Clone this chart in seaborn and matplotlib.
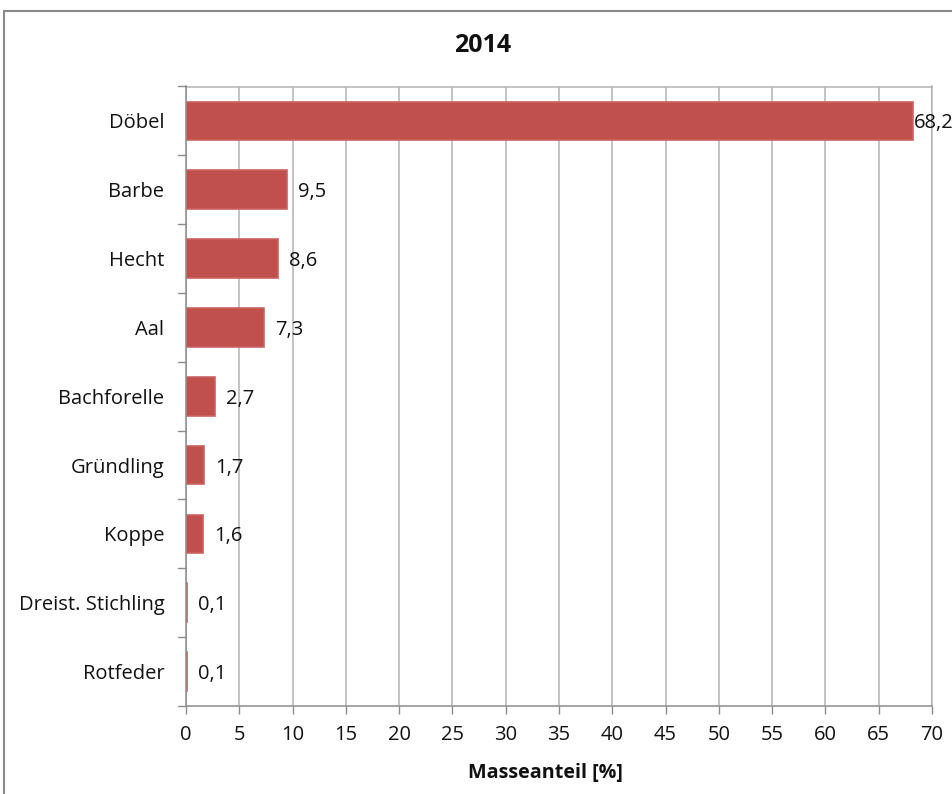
import matplotlib
matplotlib.use("Agg")
import matplotlib.pyplot as plt
import seaborn as sns
import pandas as pd
from matplotlib.patches import Rectangle

species = ["Döbel", "Barbe", "Hecht", "Aal", "Bachforelle", "Gründling",
           "Koppe", "Dreist. Stichling", "Rotfeder"]
share = [68.2, 9.5, 8.6, 7.3, 2.7, 1.7, 1.6, 0.1, 0.1]
x_ticks = list(range(0, 71, 5))
title = "2014"
x_label = "Masseanteil [%]"

df = pd.DataFrame({"Art": species, "Anteil": share})

sns.set_theme(style="white")
plt.rcParams["font.family"] = ["Open Sans", "DejaVu Sans"]

fig = plt.figure(figsize=(9.52, 7.94), dpi=100)
ax = fig.add_axes([186 / 952, 1 - 706 / 794, (932 - 186) / 952, (706 - 86.5) / 794])

bar_c = "#C0504D"
sns.barplot(data=df, x="Anteil", y="Art", orient="h", color=bar_c,
            saturation=1, width=0.56, ax=ax, zorder=3,
            edgecolor="#C96461", linewidth=1.2)

grid_c = "#b3b3b3"
ax.set_xlim(0, 70)
ax.set_ylim(len(species) - 0.5, -0.5)
ax.set_xticks(x_ticks)
ax.set_xticklabels([str(t) for t in x_ticks])
ax.xaxis.grid(True, color=grid_c, linewidth=1.1, zorder=0)
ax.set_axisbelow(True)

fs = 14.5
ax.set_yticks(range(len(species)))
ax.set_yticklabels(species)
ax.tick_params(axis="y", length=0, pad=15.5, labelsize=fs, colors="#111111")
ax.tick_params(axis="x", length=6, width=1, color="#8c8c8c", pad=8,
               labelsize=fs, labelcolor="#111111", direction="out", bottom=True)
# category boundary ticks on the category axis
for b in [i - 0.5 for i in range(len(species) + 1)]:
    ax.plot([-0.75, 0], [b, b], color="#8c8c8c", lw=1, clip_on=False, zorder=4)

for side in ["top", "right"]:
    ax.spines[side].set_visible(True)
    ax.spines[side].set_color(grid_c)
    ax.spines[side].set_linewidth(1.1)
for side in ["left", "bottom"]:
    ax.spines[side].set_color("#8c8c8c")
    ax.spines[side].set_linewidth(1.1)
    ax.spines[side].set_zorder(5)

ax.set_xlabel("")
ax.set_ylabel("")

# value labels next to the bars, German decimal comma
for i, v in enumerate(share):
    off = 1 if v > 60 else 11
    ax.annotate(f"{v:.1f}".replace(".", ","), xy=(v, i), xytext=(off, 0),
                textcoords="offset pixels", va="center_baseline", ha="left",
                fontsize=fs, color="#111111", annotation_clip=False)

fig.text(483 / 952, 1 - 45 / 794, title, ha="center", va="center",
         fontsize=18, fontweight="bold", color="#111111")
fig.text(545 / 952, 1 - 773 / 794, x_label, ha="center", va="center",
         fontsize=14.2, fontweight="bold", color="#111111")

# chart area frame
fig.patches.append(Rectangle((4 / 952, -0.1), 1.2, 1 - 11 / 794 + 0.1,
                             transform=fig.transFigure, fill=False,
                             edgecolor="#8a8a8a", linewidth=1.5))

fig.savefig("out.png", dpi=100)
